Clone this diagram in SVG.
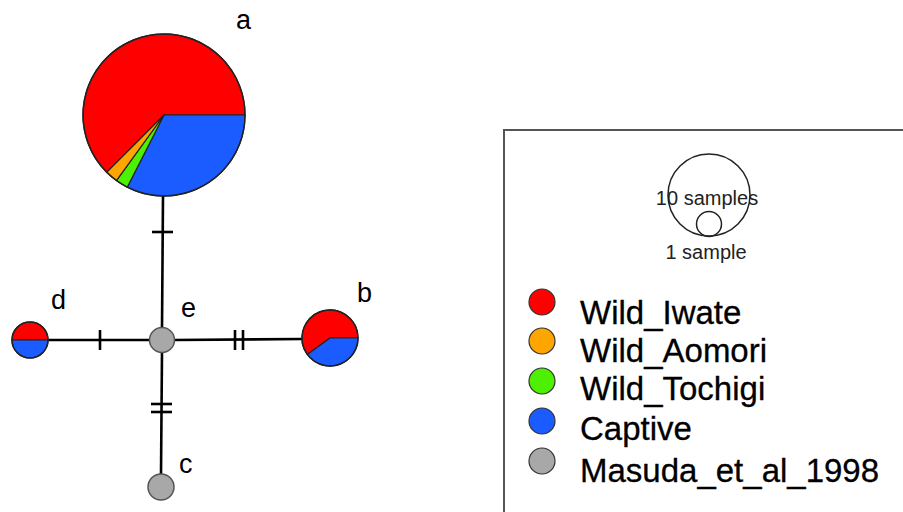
<svg xmlns="http://www.w3.org/2000/svg" width="903" height="512" viewBox="0 0 903 512">
<style>
.edge{stroke:#000;stroke-width:2.6;fill:none}
.tick{stroke:#000;stroke-width:2.6}
.slice{stroke:#222;stroke-width:1.2;stroke-linejoin:round}
.ring{fill:none;stroke:#222;stroke-width:1.5}
.lbl{font-family:"Liberation Sans",Arial,sans-serif;font-size:27px;fill:#000}
.leg{font-family:"Liberation Sans",Arial,sans-serif;font-size:33px;fill:#000;stroke:#000;stroke-width:0.3}
.scale{font-family:"Liberation Sans",Arial,sans-serif;font-size:20px;fill:#222}
.red{fill:#ff0000}.orange{fill:#ffa500}.green{fill:#4cf000}.blue{fill:#1a5cff}.gray{fill:#a8a8a8}
</style>
<rect width="903" height="512" fill="#fff"/>
<g id="connectors">
<line class="edge" x1="163" y1="196" x2="162" y2="328"/>
<line class="tick" x1="152" y1="232" x2="173" y2="232"/>
<line class="edge" x1="48" y1="340" x2="150" y2="340"/>
<line class="tick" x1="100" y1="330" x2="100" y2="350"/>
<line class="edge" x1="174" y1="340" x2="302" y2="339"/>
<line class="tick" x1="235" y1="330" x2="235" y2="350"/>
<line class="tick" x1="243" y1="330" x2="243" y2="350"/>
<line class="edge" x1="162" y1="352" x2="161" y2="474"/>
<line class="tick" x1="151" y1="404" x2="172" y2="404"/>
<line class="tick" x1="151" y1="412" x2="172" y2="412"/>
</g>
<g id="node-a">
<path class="slice red" d="M164,115 L106.72,172.28 A81,81 0 1,1 245,115 Z"/>
<path class="slice blue" d="M164,115 L245,115 A81,81 0 0,1 127.22,187.17 Z"/>
<path class="slice green" d="M164,115 L127.22,187.17 A81,81 0 0,1 116.39,180.53 Z"/>
<path class="slice orange" d="M164,115 L116.39,180.53 A81,81 0 0,1 106.72,172.28 Z"/>
<circle class="ring" cx="164" cy="115" r="81"/>
<text class="lbl" x="236" y="29">a</text>
</g>
<g id="node-b">
<path class="slice red" d="M330,338 L307.35,354.46 A28,28 0 1,1 358,338 Z"/>
<path class="slice blue" d="M330,338 L358,338 A28,28 0 0,1 307.35,354.46 Z"/>
<circle class="ring" cx="330" cy="338" r="28"/>
<text class="lbl" x="357" y="302">b</text>
</g>
<g id="node-d">
<path class="slice red" d="M12,340 A18,18 0 0,1 48,340 Z"/>
<path class="slice blue" d="M48,340 A18,18 0 0,1 12,340 Z"/>
<circle class="ring" cx="30" cy="340" r="18"/>
<text class="lbl" x="51" y="309">d</text>
</g>
<g id="node-e">
<circle class="gray" cx="162" cy="340" r="12.5" stroke="#555" stroke-width="1.5"/>
<text class="lbl" x="181" y="317">e</text>
</g>
<g id="node-c">
<circle class="gray" cx="161" cy="487" r="13" stroke="#555" stroke-width="1.5"/>
<text class="lbl" x="179" y="473">c</text>
</g>
<g id="legend">
<rect x="504" y="130" width="420" height="400" fill="none" stroke="#555" stroke-width="2"/>
<circle class="ring" cx="709" cy="195" r="41" stroke-width="1.2"/>
<circle class="ring" cx="709" cy="224" r="12.5" stroke-width="1.2"/>
<text class="scale" x="707" y="205" text-anchor="middle">10 samples</text>
<text class="scale" x="706" y="259" text-anchor="middle">1 sample</text>
<circle class="red" cx="542" cy="302" r="13" stroke="#333" stroke-width="1.2"/>
<circle class="orange" cx="542" cy="341" r="13" stroke="#333" stroke-width="1.2"/>
<circle class="green" cx="542" cy="381" r="13" stroke="#333" stroke-width="1.2"/>
<circle class="blue" cx="542" cy="421" r="13" stroke="#333" stroke-width="1.2"/>
<circle class="gray" cx="542" cy="461" r="13" stroke="#333" stroke-width="1.2"/>
<text class="leg" x="580" y="324">Wild_Iwate</text>
<text class="leg" x="580" y="362">Wild_Aomori</text>
<text class="leg" x="580" y="400">Wild_Tochigi</text>
<text class="leg" x="580" y="440">Captive</text>
<text class="leg" x="580" y="482">Masuda_et_al_1998</text>
</g>
</svg>
